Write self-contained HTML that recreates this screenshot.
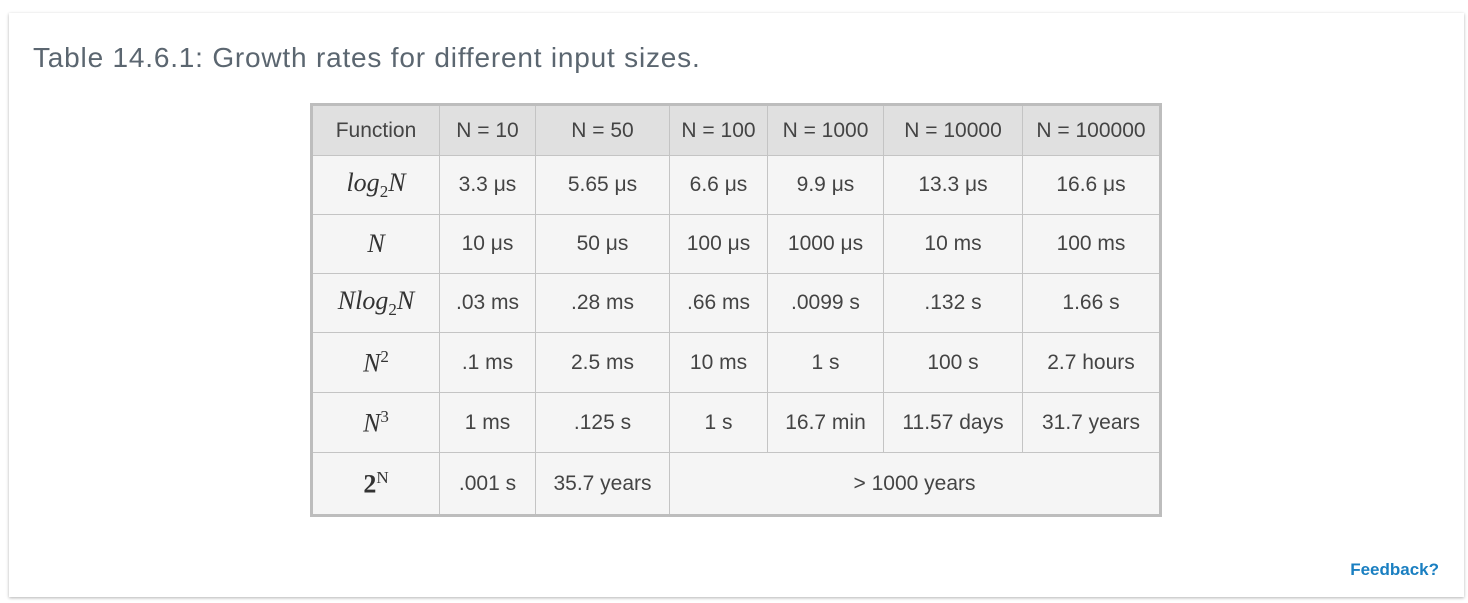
<!DOCTYPE html>
<html><head><meta charset="utf-8"><style>
html,body{margin:0;padding:0;background:#fff;width:1468px;height:603px;overflow:hidden;font-family:"Liberation Sans",sans-serif}
.card{position:absolute;left:9px;top:13px;width:1455px;height:584px;background:#fff;box-shadow:0 1px 3px rgba(0,0,0,.3);}
.title{position:absolute;left:33px;top:42px;font-size:28px;color:#5b6670;font-weight:300;letter-spacing:0.8px}
table{position:absolute;left:310px;top:103px;border-collapse:collapse;border:3px solid #bdbdbd;table-layout:fixed;color:#444;font-size:21px}
td,th{border:1px solid #c4c4c4;text-align:center;padding:0;font-weight:normal;white-space:nowrap}
th{background:#e0e0e0;height:49px}
td{background:#f5f5f5;height:58px}
tr.tall td{height:59px}
tr.last td{height:61px}
.m{font-family:"Liberation Serif",serif;font-style:italic;font-size:26px;color:#333}
.m sub,.m sup{font-style:normal;font-size:17px}
.fb{position:absolute;right:29px;top:560px;color:#1a7fc1;font-weight:bold;font-size:17px}
</style></head><body>
<div class="card">
</div>
<div class="title">Table 14.6.1: Growth rates for different input sizes.</div>
<table>
<colgroup><col style="width:128px"><col style="width:96px"><col style="width:134px"><col style="width:98px"><col style="width:116px"><col style="width:139px"><col style="width:138px"></colgroup>
<tr><th>Function</th><th>N = 10</th><th>N = 50</th><th>N = 100</th><th>N = 1000</th><th>N = 10000</th><th>N = 100000</th></tr>
<tr><td class="m">log<sub>2</sub>N</td><td>3.3 μs</td><td>5.65 μs</td><td>6.6 μs</td><td>9.9 μs</td><td>13.3 μs</td><td>16.6 μs</td></tr>
<tr><td class="m">N</td><td>10 μs</td><td>50 μs</td><td>100 μs</td><td>1000 μs</td><td>10 ms</td><td>100 ms</td></tr>
<tr><td class="m">Nlog<sub>2</sub>N</td><td>.03 ms</td><td>.28 ms</td><td>.66 ms</td><td>.0099 s</td><td>.132 s</td><td>1.66 s</td></tr>
<tr class="tall"><td class="m">N<sup>2</sup></td><td>.1 ms</td><td>2.5 ms</td><td>10 ms</td><td>1 s</td><td>100 s</td><td>2.7 hours</td></tr>
<tr class="tall"><td class="m">N<sup>3</sup></td><td>1 ms</td><td>.125 s</td><td>1 s</td><td>16.7 min</td><td>11.57 days</td><td>31.7 years</td></tr>
<tr class="last"><td class="m" style="font-style:normal;font-weight:bold">2<sup style="font-weight:normal">N</sup></td><td>.001 s</td><td>35.7 years</td><td colspan="4">&gt; 1000 years</td></tr>
</table>
<div class="fb">Feedback?</div>
</body></html>
